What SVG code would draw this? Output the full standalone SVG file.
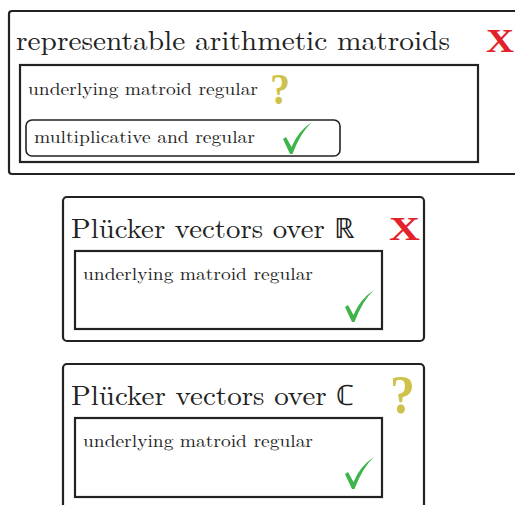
<svg xmlns="http://www.w3.org/2000/svg" width="515" height="505" viewBox="0 0 515 505">
<defs>
<style>
.box{fill:none;stroke:#222;stroke-width:2.2}
.thin{fill:none;stroke:#222;stroke-width:1.6}
.title{font-family:"Latin Modern Roman","Liberation Serif",serif;font-size:28px;fill:#222}
.lbl{font-family:"Latin Modern Roman","Liberation Serif",serif;font-size:17px;fill:#222}
.x{font-family:"Liberation Serif",serif;font-weight:bold;font-size:33px;fill:#e3232b}
.q{font-family:"Liberation Serif",serif;font-weight:bold;font-size:44px;fill:#cfc24a}
.qbig{font-size:54px}
.chk{fill:#3db54a}
</style>
<path id="check" d="M0,17 L3,15 L8.5,25 Q15,9 29,0 Q17.5,10.5 9.5,32 L7,32 Z"/>
</defs>
<g id="node-arith">
<rect class="box" x="9" y="11" width="520" height="163" rx="3"/>
<text class="title" x="16" y="50" textLength="434" lengthAdjust="spacingAndGlyphs">representable arithmetic matroids</text>
<text class="x" x="486" y="52" textLength="28" lengthAdjust="spacingAndGlyphs">X</text>
</g>
<g id="node-arith-regular">
<rect class="box" x="20" y="65" width="458" height="97"/>
<text class="lbl" x="28" y="95" textLength="230" lengthAdjust="spacingAndGlyphs">underlying matroid regular</text>
<text class="q" x="270" y="104" textLength="20" lengthAdjust="spacingAndGlyphs">?</text>
</g>
<g id="node-arith-mult">
<rect class="thin" x="26" y="120" width="314" height="36" rx="6"/>
<text class="lbl" x="34" y="143" textLength="221" lengthAdjust="spacingAndGlyphs">multiplicative and regular</text>
<use href="#check" class="chk" x="283" y="122"/>
</g>
<g id="node-plucker-R">
<rect class="box" x="63" y="197" width="361" height="144" rx="4"/>
<text class="title" x="71" y="238" textLength="284" lengthAdjust="spacingAndGlyphs">Plücker vectors over ℝ</text>
<text class="x" x="389" y="240" textLength="31" lengthAdjust="spacingAndGlyphs">X</text>
</g>
<g id="node-plucker-R-regular">
<rect class="box" x="75" y="251" width="307" height="78"/>
<text class="lbl" x="83" y="280" textLength="230" lengthAdjust="spacingAndGlyphs">underlying matroid regular</text>
<use href="#check" class="chk" x="345" y="290"/>
</g>
<g id="node-plucker-C">
<rect class="box" x="63" y="364" width="361" height="160" rx="4"/>
<text class="title" x="71" y="405" textLength="284" lengthAdjust="spacingAndGlyphs">Plücker vectors over ℂ</text>
<text class="q qbig" x="390" y="413" textLength="25" lengthAdjust="spacingAndGlyphs">?</text>
</g>
<g id="node-plucker-C-regular">
<rect class="box" x="75" y="418" width="307" height="79"/>
<text class="lbl" x="83" y="447" textLength="230" lengthAdjust="spacingAndGlyphs">underlying matroid regular</text>
<use href="#check" class="chk" x="345" y="457"/>
</g>
<g id="connectors"></g>
</svg>
